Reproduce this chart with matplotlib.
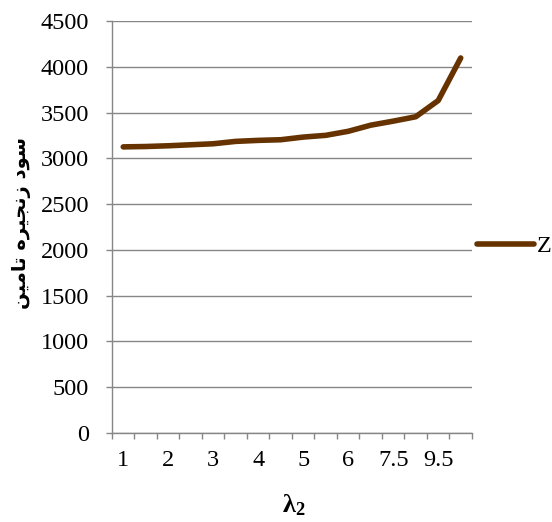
import numpy as np
import matplotlib
matplotlib.use('Agg')
import matplotlib.pyplot as plt

plt.rcParams['font.family'] = ['Liberation Serif', 'DejaVu Serif']
plt.rcParams['mathtext.fontset'] = 'custom'
plt.rcParams['mathtext.rm'] = 'Liberation Serif'
plt.rcParams['mathtext.it'] = 'Liberation Serif:italic'
plt.rcParams['mathtext.bf'] = 'Liberation Serif:bold'

# lambda_2 steps (only every other one gets a label on the axis)
lam2 = ['1', '1.5', '2', '2.5', '3', '3.5', '4', '4.5', '5', '5.5', '6', '7', '7.5', '8.5', '9.5', '10']
shown_labels = ['1', '2', '3', '4', '5', '6', '7.5', '9.5']
profit_z = [3125, 3129, 3137, 3148, 3159, 3185, 3196, 3203, 3232, 3251, 3295, 3362, 3406, 3454, 3631, 4096]

# supply chain profit label, pre-shaped Persian glyphs in visual order
ylabel_logical = '\uFEB3\uFEEE\uFEA9 \uFEAF\uFEE7\uFEA0\uFEF4\uFEAE\uFEE9 \uFE97\uFE8E\uFEE3\uFEF4\uFEE6'
ylabel_visual = ylabel_logical[::-1]

grid_col = '#868686'
line_col = '#663300'
fs = 17.5

fig = plt.figure(figsize=(5.52, 5.22), dpi=100)
ax = fig.add_axes([0.2029, 0.1705, 0.855 - 0.2029, 0.9598 - 0.1705])

x = np.arange(len(lam2))
ax.plot(x, profit_z, color=line_col, lw=4, solid_capstyle='round', solid_joinstyle='round', label='Z')

ax.set_xlim(-0.5, len(lam2) - 0.5)
ax.set_ylim(0, 4500)
ax.set_yticks(np.arange(0, 4501, 500))
ax.yaxis.grid(True, color=grid_col, lw=1.0)
ax.set_axisbelow(True)

# tick marks on category boundaries, labels centred on every other category
ax.set_xticks(np.arange(len(lam2) + 1) - 0.5, labels=[''] * (len(lam2) + 1))
ax.set_xticks(x[::2], labels=shown_labels, minor=True)
ax.tick_params(axis='x', which='major', length=4.5, width=1, color=grid_col)
ax.tick_params(axis='x', which='minor', length=0, pad=12.5, labelsize=fs)
ax.tick_params(axis='y', length=4.5, width=1, color=grid_col, pad=12, labelsize=fs)

for s in ['top', 'right']:
    ax.spines[s].set_visible(False)
for s in ['left', 'bottom']:
    ax.spines[s].set_color(grid_col)
    ax.spines[s].set_linewidth(1.0)

ax.set_xlabel(r'$\mathbf{\lambda_2}$', fontsize=19)
ax.xaxis.set_label_coords(0.505, -0.143)
ax.set_ylabel(ylabel_visual, fontsize=14, fontweight='bold', family='DejaVu Sans')
ax.yaxis.set_label_coords(-0.225, 0.51)

ax.legend(loc='center left', bbox_to_anchor=(477 / 552, 1 - 246 / 522), bbox_transform=fig.transFigure,
          frameon=False, fontsize=fs, handlelength=2.35, handletextpad=0.12,
          borderpad=0, borderaxespad=0)

fig.savefig('out.png', dpi=100)
